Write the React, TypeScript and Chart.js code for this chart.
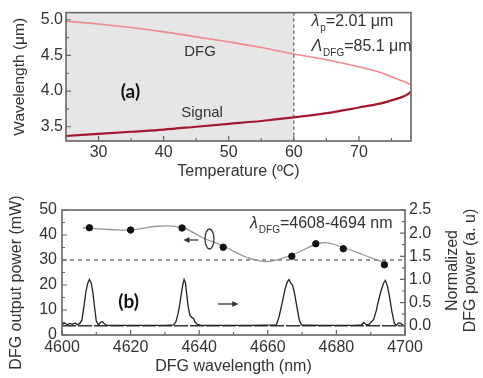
import React, { useEffect, useRef } from "react";
import { Chart, registerables } from "chart.js";

Chart.register(...registerables);

const FONT = '"Liberation Sans", Arial, Helvetica, sans-serif';
const TEXT = "#333333";
const FRAME = "#666666";

// ---------- Panel (a) ----------
const temperature = [25, 30, 35, 40, 45, 50, 55, 60, 65, 70, 73, 75, 77, 78];
const dfgWavelength = [4.98, 4.94, 4.89, 4.83, 4.76, 4.69, 4.61, 4.52, 4.44, 4.34, 4.27, 4.2, 4.13, 4.09];
const signalWavelength = [3.37, 3.4, 3.43, 3.46, 3.5, 3.54, 3.58, 3.63, 3.69, 3.77, 3.82, 3.87, 3.93, 3.99];
const tempTicks = [30, 40, 50, 60, 70];
const tempMinorTicks = [35, 45, 55, 65, 75];
const wavelengthTicks = [3.5, 4.0, 4.5, 5.0];
const wavelengthMinorTicks = [3.75, 4.25, 4.75];
const shadedTemperature = [25, 60];

// ---------- Panel (b) ----------
const peakWavelength = [4608, 4620, 4635, 4647, 4667, 4674, 4682, 4694];
const outputPower = [42.9, 42.0, 42.8, 35.1, 31.5, 36.5, 34.5, 28.1];
const fitWavelength = [4606, 4614, 4620, 4628, 4635, 4641, 4647, 4654, 4660, 4667, 4676, 4682, 4688, 4694];
const fitPower = [42.9, 42.2, 42.0, 43.5, 43.0, 38.9, 35.6, 31.0, 29.4, 32.0, 36.9, 35.0, 32.0, 28.9];
const spectrumWavelength = [
  4600.0, 4600.8, 4601.5, 4602.3, 4603.0, 4603.8, 4604.5, 4605.2, 4605.8, 4606.4, 4607.0, 4607.5, 4608.0,
  4608.5, 4609.0, 4609.5, 4610.0, 4610.6, 4611.2, 4611.7, 4612.3, 4613.0, 4616.0, 4620.0, 4625.0, 4630.0,
  4632.5, 4633.2, 4633.8, 4634.3, 4634.8, 4635.2, 4635.6, 4636.0, 4636.4, 4636.8, 4637.3, 4637.8, 4638.3,
  4638.8, 4639.5, 4640.5, 4650.0, 4655.0, 4662.5, 4663.3, 4664.2, 4665.0, 4665.7, 4666.2, 4666.7, 4667.2,
  4667.8, 4668.5, 4669.2, 4669.8, 4675.0, 4680.0, 4685.0, 4687.3, 4688.0, 4688.7, 4689.5, 4690.3, 4690.9,
  4691.6, 4692.3, 4693.0, 4693.8, 4694.3, 4694.9, 4695.5, 4696.2, 4696.9, 4697.5, 4698.2, 4698.8, 4699.4,
  4700.0,
];
const spectrumPower = [
  0.03, 0.06, 0.02, 0.05, 0.03, 0.06, 0.02, 0.05, 0.12, 0.42, 0.75, 0.92, 1.0,
  0.93, 0.72, 0.4, 0.1, 0.02, 0.07, 0.09, 0.05, 0.01, 0.01, 0.01, 0.01, 0.01,
  0.02, 0.08, 0.25, 0.45, 0.7, 0.88, 1.0, 0.92, 0.65, 0.4, 0.22, 0.18, 0.16,
  0.08, 0.03, 0.01, 0.01, 0.01, 0.02, 0.2, 0.5, 0.78, 0.95, 1.0, 0.92, 0.88,
  0.7, 0.4, 0.12, 0.02, 0.01, 0.01, 0.01, 0.02, 0.07, 0.02, 0.03, 0.09, 0.14,
  0.32, 0.55, 0.75, 0.93, 0.98, 0.85, 0.62, 0.3, 0.05, 0.01, 0.06, 0.05, 0.01,
  0.01,
];
const dfgWlTicks = [4600, 4620, 4640, 4660, 4680, 4700];
const dfgWlMinorTicks = [4610, 4630, 4650, 4670, 4690];
const powerTicks = [0, 10, 20, 30, 40, 50];
const powerMinorTicks = [5, 15, 25, 35, 45];
const normTicks = [0, 0.5, 1.0, 1.5, 2.0, 2.5];
const normMinorTicks = [0.25, 0.75, 1.25, 1.75, 2.25];
const thresholdPower = 30;

type Seg = { t: string; italic?: boolean; sub?: boolean };

function drawRich(ctx: CanvasRenderingContext2D, segs: Seg[], x: number, y: number, size: number) {
  let cx = x;
  ctx.textAlign = "left";
  ctx.textBaseline = "alphabetic";
  ctx.fillStyle = TEXT;
  for (const s of segs) {
    const fs = s.sub ? Math.round(size * 0.62) : size;
    ctx.font = `${s.italic ? "italic " : ""}${fs}px ${FONT}`;
    ctx.fillText(s.t, cx, s.sub ? y + size * 0.3 : y);
    cx += ctx.measureText(s.t).width + (s.italic ? 1 : 0);
  }
}

function drawFrame(ctx: CanvasRenderingContext2D, a: any) {
  ctx.save();
  ctx.strokeStyle = FRAME;
  ctx.lineWidth = 1.6;
  ctx.strokeRect(a.left, a.top, a.right - a.left, a.bottom - a.top);
  ctx.restore();
}

function drawTicks(
  ctx: CanvasRenderingContext2D,
  scale: any,
  side: "bottom" | "left" | "right",
  a: any,
  majors: number[],
  minors: number[]
) {
  ctx.save();
  ctx.strokeStyle = FRAME;
  ctx.lineWidth = 1.2;
  const list: [number, number][] = [
    ...majors.map((v) => [v, 5] as [number, number]),
    ...minors.map((v) => [v, 3] as [number, number]),
  ];
  ctx.beginPath();
  for (const [v, len] of list) {
    const p = scale.getPixelForValue(v);
    if (side === "bottom") {
      ctx.moveTo(p, a.bottom);
      ctx.lineTo(p, a.bottom - len);
    } else if (side === "left") {
      ctx.moveTo(a.left, p);
      ctx.lineTo(a.left + len, p);
    } else {
      ctx.moveTo(a.right, p);
      ctx.lineTo(a.right - len, p);
    }
  }
  ctx.stroke();
  ctx.restore();
}

function arrow(ctx: CanvasRenderingContext2D, x0: number, x1: number, y: number) {
  const dir = Math.sign(x1 - x0);
  ctx.beginPath();
  ctx.moveTo(x0, y);
  ctx.lineTo(x1 - dir * 4, y);
  ctx.stroke();
  ctx.beginPath();
  ctx.moveTo(x1, y);
  ctx.lineTo(x1 - dir * 6, y - 3);
  ctx.lineTo(x1 - dir * 6, y + 3);
  ctx.closePath();
  ctx.fill();
}

function rotatedText(ctx: CanvasRenderingContext2D, s: string, x: number, y: number) {
  ctx.save();
  ctx.translate(x, y);
  ctx.rotate(-Math.PI / 2);
  ctx.fillText(s, 0, 0);
  ctx.restore();
}

const topPlugin = {
  id: "topDeco",
  beforeDatasetsDraw(chart: any) {
    const { ctx, chartArea: a, scales } = chart;
    const x = scales.x;
    ctx.save();
    ctx.fillStyle = "#e6e6e6";
    const x0 = x.getPixelForValue(shadedTemperature[0]);
    const x1 = x.getPixelForValue(shadedTemperature[1]);
    ctx.fillRect(x0, a.top, x1 - x0, a.bottom - a.top);
    ctx.restore();
  },
  afterDatasetsDraw(chart: any) {
    const { ctx, chartArea: a, scales } = chart;
    const x = scales.x;
    const y = scales.y;
    ctx.save();
    ctx.strokeStyle = "#555";
    ctx.lineWidth = 1.2;
    ctx.setLineDash([3, 3]);
    const xd = x.getPixelForValue(shadedTemperature[1]);
    ctx.beginPath();
    ctx.moveTo(xd, a.top);
    ctx.lineTo(xd, a.bottom);
    ctx.stroke();
    ctx.setLineDash([]);
    ctx.restore();

    drawFrame(ctx, a);
    drawTicks(ctx, x, "bottom", a, tempTicks, tempMinorTicks);
    drawTicks(ctx, y, "left", a, wavelengthTicks, wavelengthMinorTicks);

    ctx.save();
    ctx.fillStyle = TEXT;
    ctx.textAlign = "center";
    ctx.textBaseline = "middle";
    ctx.font = `15px ${FONT}`;
    ctx.fillText("DFG", x.getPixelForValue(45.6), y.getPixelForValue(4.55));
    ctx.fillText("Signal", x.getPixelForValue(45.9), y.getPixelForValue(3.69));
    ctx.font = `bold 19px Lato, ${FONT}`;
    ctx.fillStyle = "#111";
    ctx.fillText("(a)", x.getPixelForValue(34.9), y.getPixelForValue(3.99));
    const lx = x.getPixelForValue(62.7);
    drawRich(ctx, [{ t: "λ", italic: true }, { t: "p", sub: true }, { t: "=2.01 μm" }], lx, y.getPixelForValue(4.91), 16);
    drawRich(ctx, [{ t: "Λ", italic: true }, { t: "DFG", sub: true }, { t: "=85.1 μm" }], lx, y.getPixelForValue(4.56), 16);
    ctx.restore();
  },
};

const botPlugin = {
  id: "botDeco",
  beforeDatasetsDraw(chart: any) {
    const { ctx, chartArea: a, scales } = chart;
    const y = scales.y;
    const y2 = scales.y2;
    ctx.save();
    ctx.strokeStyle = "#777";
    ctx.lineWidth = 1.5;
    ctx.setLineDash([4, 4]);
    const py = y.getPixelForValue(thresholdPower);
    ctx.beginPath();
    ctx.moveTo(a.left, py);
    ctx.lineTo(a.right, py);
    ctx.stroke();
    ctx.strokeStyle = "#333";
    ctx.lineWidth = 1.3;
    ctx.setLineDash([14, 2]);
    const p0 = y2.getPixelForValue(0);
    ctx.beginPath();
    ctx.moveTo(a.left, p0);
    ctx.lineTo(a.right, p0);
    ctx.stroke();
    ctx.restore();
  },
  afterDatasetsDraw(chart: any) {
    const { ctx, chartArea: a, scales } = chart;
    const x = scales.x;
    const y = scales.y;
    const y2 = scales.y2;
    drawFrame(ctx, a);
    drawTicks(ctx, x, "bottom", a, dfgWlTicks, dfgWlMinorTicks);
    drawTicks(ctx, y, "left", a, powerTicks, powerMinorTicks);
    drawTicks(ctx, y2, "right", a, normTicks, normMinorTicks);

    ctx.save();
    ctx.strokeStyle = "#333";
    ctx.fillStyle = "#333";
    ctx.lineWidth = 1.3;
    ctx.beginPath();
    ctx.ellipse(x.getPixelForValue(4643), y.getPixelForValue(38.4), 4.5, 10, 0, 0, Math.PI * 2);
    ctx.stroke();
    arrow(ctx, x.getPixelForValue(4639.7), x.getPixelForValue(4635.4), y.getPixelForValue(38.0));
    arrow(ctx, x.getPixelForValue(4645.5), x.getPixelForValue(4651.4), y2.getPixelForValue(0.47));

    ctx.fillStyle = "#111";
    ctx.textAlign = "center";
    ctx.textBaseline = "middle";
    ctx.font = `bold 19px Lato, ${FONT}`;
    ctx.fillText("(b)", x.getPixelForValue(4619.4), y2.getPixelForValue(0.52));

    drawRich(
      ctx,
      [{ t: "λ", italic: true }, { t: "DFG", sub: true }, { t: "=4608-4694 nm" }],
      x.getPixelForValue(4654.8),
      y2.getPixelForValue(2.11),
      16
    );

    // axis titles (both read upward)
    ctx.fillStyle = TEXT;
    ctx.font = `16px ${FONT}`;
    ctx.textAlign = "center";
    ctx.textBaseline = "middle";
    const cy = (a.top + a.bottom) / 2;
    rotatedText(ctx, "DFG output power (mW)", 17, cy + 10);
    rotatedText(ctx, "Normalized", chart.width - 30, cy - 2);
    rotatedText(ctx, "DFG power (a. u)", chart.width - 12, cy - 2);
    ctx.restore();
  },
};

function fixTicks(values: number[]) {
  return (s: any) => {
    s.ticks = values.map((v) => ({ value: v }));
  };
}

export default function App() {
  const topRef = useRef<HTMLCanvasElement>(null);
  const botRef = useRef<HTMLCanvasElement>(null);

  useEffect(() => {
    const tickFont = { family: FONT, size: 16 };
    const titleFont = { family: FONT, size: 16 };
    const noGrid = { display: false, drawTicks: false, tickLength: 0 };

    const top = new Chart(topRef.current!, {
      type: "line",
      data: {
        datasets: [
          {
            label: "Signal",
            data: temperature.map((t, i) => ({ x: t, y: signalWavelength[i] })),
            borderColor: "#a3182e",
            borderWidth: 2.2,
            pointRadius: 0,
            cubicInterpolationMode: "monotone",
          },
          {
            label: "DFG",
            data: temperature.map((t, i) => ({ x: t, y: dfgWavelength[i] })),
            borderColor: "#f08a8e",
            borderWidth: 1.6,
            pointRadius: 0,
            cubicInterpolationMode: "monotone",
          },
        ],
      },
      options: {
        responsive: false,
        animation: false,
        events: [],
        layout: { padding: { top: 9, right: 72, left: 0, bottom: 0 } },
        plugins: { legend: { display: false }, tooltip: { enabled: false } },
        scales: {
          x: {
            type: "linear",
            min: 25,
            max: 78,
            afterBuildTicks: fixTicks(tempTicks),
            afterFit: (s: any) => {
              s.height = 45;
            },
            grid: noGrid,
            border: { display: false },
            ticks: { font: tickFont, color: TEXT, padding: 2, maxRotation: 0, autoSkip: false, callback: (v: any) => String(v) },
            title: { display: true, text: "Temperature (ºC)", font: titleFont, color: TEXT, padding: { top: 0, bottom: 5 } },
          },
          y: {
            type: "linear",
            min: 3.3,
            max: 5.1,
            afterBuildTicks: fixTicks(wavelengthTicks),
            afterFit: (s: any) => {
              s.width = 66;
            },
            grid: noGrid,
            border: { display: false },
            ticks: { font: tickFont, color: TEXT, padding: 3, autoSkip: false, callback: (v: any) => Number(v).toFixed(1) },
            title: { display: true, text: "Wavelength (μm)", font: { family: FONT, size: 15.5 }, color: TEXT, padding: { top: 10, bottom: 0 } },
          },
        },
      },
      plugins: [topPlugin],
    } as any);

    const bot = new Chart(botRef.current!, {
      type: "line",
      data: {
        datasets: [
          {
            label: "Output power",
            data: peakWavelength.map((w, i) => ({ x: w, y: outputPower[i] })),
            yAxisID: "y",
            showLine: false,
            pointRadius: 3.2,
            pointBackgroundColor: "#111",
            pointBorderColor: "#111",
          },
          {
            label: "Fit",
            data: fitWavelength.map((w, i) => ({ x: w, y: fitPower[i] })),
            yAxisID: "y",
            borderColor: "#999",
            borderWidth: 1.3,
            pointRadius: 0,
            tension: 0.4,
          },
          {
            label: "Spectrum",
            data: spectrumWavelength.map((w, i) => ({ x: w, y: spectrumPower[i] })),
            yAxisID: "y2",
            borderColor: "#222",
            borderWidth: 1.3,
            pointRadius: 0,
            tension: 0,
          },
        ],
      },
      options: {
        responsive: false,
        animation: false,
        events: [],
        layout: { padding: { top: 20, right: 0, left: 0, bottom: 0 } },
        plugins: { legend: { display: false }, tooltip: { enabled: false } },
        scales: {
          x: {
            type: "linear",
            min: 4600,
            max: 4700,
            afterBuildTicks: fixTicks(dfgWlTicks),
            afterFit: (s: any) => {
              s.height = 43;
            },
            grid: noGrid,
            border: { display: false },
            ticks: { font: tickFont, color: TEXT, padding: 3, maxRotation: 0, autoSkip: false, callback: (v: any) => String(v) },
            title: { display: true, text: "DFG wavelength (nm)", font: titleFont, color: TEXT, padding: { top: 0, bottom: 2 } },
          },
          y: {
            type: "linear",
            position: "left",
            min: 0,
            max: 50,
            afterBuildTicks: fixTicks(powerTicks),
            afterFit: (s: any) => {
              s.width = 62;
            },
            grid: noGrid,
            border: { display: false },
            ticks: { font: tickFont, color: TEXT, padding: 5, autoSkip: false, callback: (v: any) => String(v) },
            title: { display: false },
          },
          y2: {
            type: "linear",
            position: "right",
            min: -0.2,
            max: 2.5,
            afterBuildTicks: fixTicks(normTicks),
            afterFit: (s: any) => {
              s.width = 78;
            },
            grid: noGrid,
            border: { display: false },
            ticks: { font: tickFont, color: TEXT, padding: 4, autoSkip: false, callback: (v: any) => Number(v).toFixed(1) },
          },
        },
      },
      plugins: [botPlugin],
    } as any);

    return () => {
      top.destroy();
      bot.destroy();
    };
  }, []);

  return (
    <div style={{ position: "absolute", left: 0, top: 0, width: 483, height: 378, background: "#fff" }}>
      <canvas
        ref={topRef}
        width={483}
        height={186}
        style={{ position: "absolute", left: 0, top: 0, width: 483, height: 186 }}
      />
      <canvas
        ref={botRef}
        width={483}
        height={188}
        style={{ position: "absolute", left: 0, top: 190, width: 483, height: 188 }}
      />
    </div>
  );
}
